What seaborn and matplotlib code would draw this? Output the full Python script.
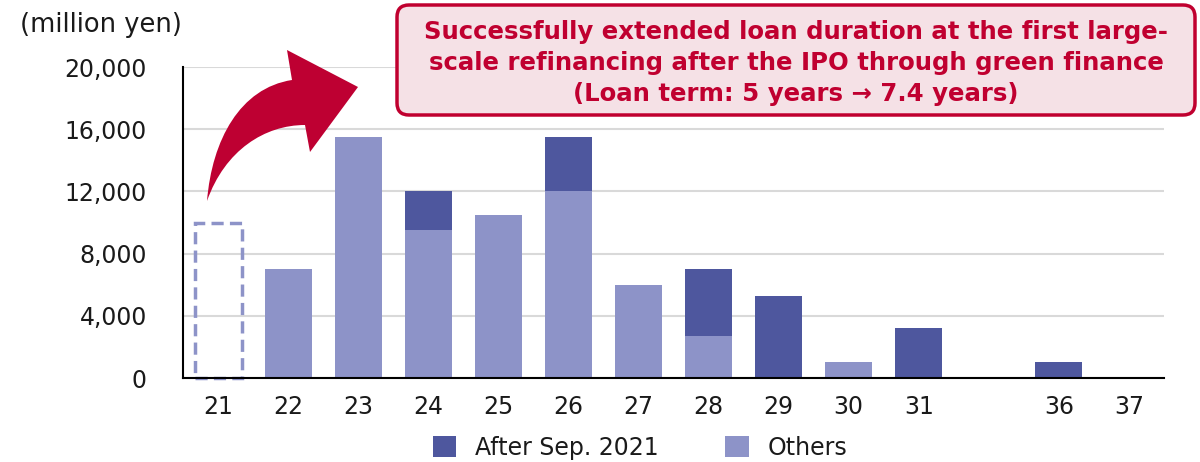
import matplotlib
matplotlib.use("Agg")
import matplotlib.pyplot as plt
import seaborn as sns
import pandas as pd
from matplotlib.patches import Patch, FancyBboxPatch, PathPatch
from matplotlib.path import Path

# Repayment schedule by fiscal year (million yen)
years = ["21", "22", "23", "24", "25", "26", "27", "28", "29", "30", "31", "", "36", "37"]
others = [0, 7000, 15500, 9500, 10500, 12000, 6000, 2700, 0, 1000, 0, 0, 0, 0]
after_sep_2021 = [0, 0, 0, 2500, 0, 3500, 0, 4300, 5250, 0, 3200, 0, 1000, 0]
refinanced_21 = 10000
y_ticks = [0, 4000, 8000, 12000, 16000, 20000]

DARK = "#4E579E"
LIGHT = "#8D93C8"
RED = "#BE0032"

sns.set_theme(style="white")
plt.rcParams["font.family"] = ["DejaVu Sans"]

W, H = 1200, 462
fig = plt.figure(figsize=(W / 100, H / 100), dpi=100)
ax = fig.add_axes([183 / W, 1 - 378 / H, (1164 - 183) / W, (378 - 67) / H])

df = pd.DataFrame({"year": years, "others": others, "after": after_sep_2021})
df["total"] = df["others"] + df["after"]

# Stacked bars: total in the dark colour, "others" painted over it from the base
sns.barplot(data=df, x="year", y="total", order=years, color=DARK,
            saturation=1, width=0.67, linewidth=0, ax=ax, zorder=3)
sns.barplot(data=df, x="year", y="others", order=years, color=LIGHT,
            saturation=1, width=0.67, linewidth=0, ax=ax, zorder=3)

# Dashed outline for the amount refinanced in FY21
ax.bar(0, refinanced_21, width=0.67, fill=False, edgecolor=LIGHT,
       linestyle=(0, (3.5, 1.8)), linewidth=2.5, zorder=4, clip_on=False)

ax.set_xlim(-0.5, len(years) - 0.5)
ax.set_ylim(0, 20000)
ax.set_yticks(y_ticks)
ax.set_yticklabels([f"{v:,}" for v in y_ticks])
ax.set_xlabel("")
ax.set_ylabel("")
ax.yaxis.grid(True, color="#D9D9D9", linewidth=1.5)
ax.set_axisbelow(True)
for s in ["top", "right"]:
    ax.spines[s].set_visible(False)
for s in ["left", "bottom"]:
    ax.spines[s].set_color("black")
    ax.spines[s].set_linewidth(1.5)
    ax.spines[s].set_zorder(5)
ax.tick_params(axis="both", length=0, labelsize=17, colors="#1a1a1a")
ax.tick_params(axis="y", pad=26)
ax.tick_params(axis="x", pad=12)

fig.text(20 / W, 1 - 25 / H, "(million yen)", ha="left", va="center",
         fontsize=18.5, color="#1a1a1a")

# Legend
handles = [Patch(facecolor=DARK, edgecolor="none"),
           Patch(facecolor=LIGHT, edgecolor="none")]
fig.legend(handles, ["After Sep. 2021", "Others"], loc="center",
           bbox_to_anchor=(640 / W, 1 - 448 / H), ncol=2, frameon=False,
           fontsize=17, handlelength=1.0, handleheight=1.0,
           handletextpad=0.8, columnspacing=2.8, labelcolor="#1a1a1a")

# Callout box
inch = fig.dpi_scale_trans
box = FancyBboxPatch((397 / 100, (H - 115) / 100), (1195 - 397) / 100, (115 - 5) / 100,
                     boxstyle="round,pad=0,rounding_size=0.12",
                     transform=inch, facecolor="#F5E1E6", edgecolor="#C0002F",
                     linewidth=2.5, zorder=6)
fig.patches.append(box)
fig.text(796 / W, 1 - 63 / H,
         "Successfully extended loan duration at the first large-\n"
         "scale refinancing after the IPO through green finance\n"
         "(Loan term: 5 years \u2192 7.4 years)",
         ha="center", va="center", fontsize=17.6, fontweight="bold",
         color="#C00030", linespacing=1.38, zorder=7)

# Curved arrow
def px(x, y):
    return (x / 100, (H - y) / 100)

verts = [px(207, 201),
         px(212, 140), px(240, 88), px(292, 80),
         px(287, 50), px(358, 87), px(310, 152), px(305, 125),
         px(265, 125), px(225, 150), px(207, 201),
         px(207, 201)]
codes = [Path.MOVETO,
         Path.CURVE4, Path.CURVE4, Path.CURVE4,
         Path.LINETO, Path.LINETO, Path.LINETO, Path.LINETO,
         Path.CURVE4, Path.CURVE4, Path.CURVE4,
         Path.CLOSEPOLY]
arrow = PathPatch(Path(verts, codes), transform=inch, facecolor=RED,
                  edgecolor="none", zorder=6)
fig.patches.append(arrow)

fig.savefig("out.png", dpi=100)
